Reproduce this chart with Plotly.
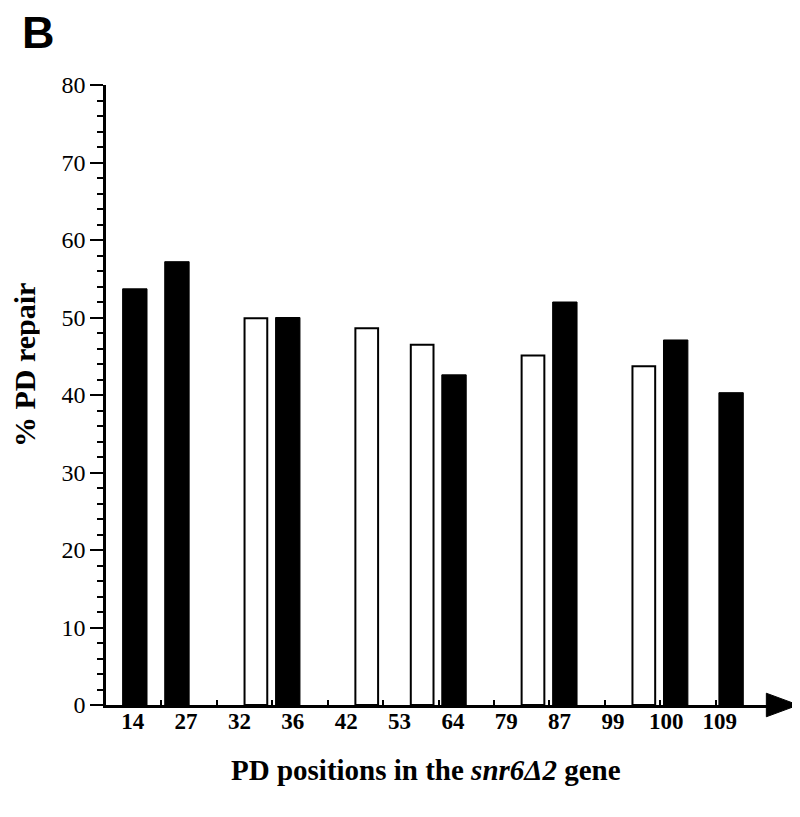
import plotly.graph_objects as go

# PD positions (x categories) and % repair per strand
positions = ["14", "27", "32", "36", "42", "53", "64", "79", "87", "99", "100", "109"]
black_repair = [53.7, 57.2, None, 50.0, None, None, 42.6, None, 52.0, None, 47.1, 40.3]
white_repair = [None, None, 49.9, None, 48.6, 46.5, None, 45.1, None, 43.7, None, None]

SERIF = "Liberation Serif, DejaVu Serif, serif"

fig = go.Figure()

# first black bar sits further from the y axis than the rest
black_offsets = [-0.2] + [-0.44] * (len(positions) - 1)

fig.add_trace(go.Bar(
    x=positions, y=black_repair, name="black",
    marker=dict(color="black", line=dict(color="black", width=1)),
    offset=black_offsets, width=0.44,
))
fig.add_trace(go.Bar(
    x=positions, y=white_repair, name="white",
    marker=dict(color="white", line=dict(color="black", width=2)),
    offset=0.0, width=0.41,
))
# empty trace so the label axis (x2) gets drawn
fig.add_trace(go.Scatter(
    x=positions, y=[None] * len(positions), xaxis="x2", yaxis="y",
    mode="markers", showlegend=False, hoverinfo="skip",
))

# page body has an 8px margin, so the figure is a bit smaller than the window
fig.update_layout(
    width=792, height=809,
    margin=dict(l=98, r=29, t=77, b=112),
    plot_bgcolor="rgba(0,0,0,0)", paper_bgcolor="white",
    showlegend=False,
    xaxis=dict(
        type="category",
        showline=True, linecolor="black", linewidth=2.5,
        ticks="inside", tickson="boundaries", ticklen=5, tickwidth=2, tickcolor="black",
        showticklabels=False,
        showgrid=False, zeroline=False,
    ),
    # labels in the original sit a little tighter than the bar slots
    xaxis2=dict(
        type="category", categoryarray=positions, categoryorder="array",
        range=[-0.5, 11.5], domain=[0, 0.963], anchor="y",
        showline=False, ticks="", showgrid=False, zeroline=False,
        tickfont=dict(family=SERIF, size=23, color="black", weight="bold"),
    ),
    yaxis=dict(
        range=[0, 80], dtick=10,
        showline=True, linecolor="black", linewidth=2.5,
        ticks="outside", ticklen=13, tickwidth=2, tickcolor="black",
        minor=dict(dtick=2, ticks="outside", ticklen=6, tickwidth=2, tickcolor="black"),
        tickfont=dict(family=SERIF, size=24, color="black"),
        showgrid=False, zeroline=False,
    ),
    shapes=[
        dict(type="path", xref="paper", yref="paper",
             path="M 0.993,0.019 L 1.041,0 L 0.993,-0.019 Z",
             fillcolor="black", line=dict(color="black", width=1)),
    ],
    annotations=[
        dict(text="B", xref="paper", yref="paper", x=-0.129, y=1.086,
             xanchor="left", yanchor="middle", height=38, valign="middle",
             showarrow=False,
             font=dict(family="Liberation Sans, Arial, sans-serif", size=45,
                       color="black", weight="bold")),
        dict(text="% PD repair", xref="paper", yref="paper", x=-0.122, y=0.548,
             xanchor="center", yanchor="middle", textangle=-90, height=30,
             showarrow=False,
             font=dict(family=SERIF, size=30, color="black", weight="bold")),
        dict(text="PD positions in the <i>snr6Δ2</i> gene", xref="paper", yref="paper",
             x=0.481, y=-0.105, xanchor="center", yanchor="middle", showarrow=False,
             font=dict(family=SERIF, size=29, color="black", weight="bold")),
    ],
)

fig.write_html("out.html")
